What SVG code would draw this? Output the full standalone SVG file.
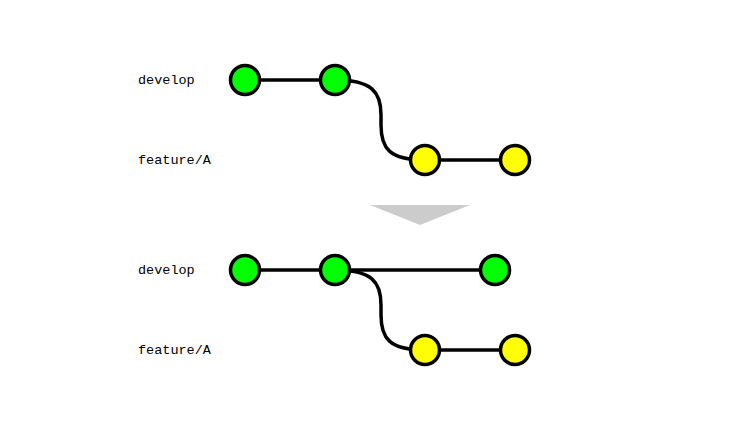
<svg xmlns="http://www.w3.org/2000/svg" width="731" height="431" viewBox="0 0 731 431">
<style>
.lbl{font-family:"Liberation Mono","Courier New",monospace;font-size:13.5px;fill:#000}
.edge{fill:none;stroke:#000;stroke-width:3.5}
.dev{fill:#00ff00;stroke:#000;stroke-width:3.5}
.feat{fill:#ffff00;stroke:#000;stroke-width:3.5}
</style>
<rect width="731" height="431" fill="#fff"/>
<g id="labels">
<text class="lbl" x="138" y="84">develop</text>
<text class="lbl" x="138" y="164">feature/A</text>
<text class="lbl" x="138" y="274">develop</text>
<text class="lbl" x="138" y="354">feature/A</text>
</g>
<g id="connectors">
<path class="edge" d="M245 80 L335 80"/>
<path class="edge" d="M335 80 C372 80 381 92 381 115 L381 125 C381 148 389 160 425 160"/>
<path class="edge" d="M425 160 L515 160"/>
<path class="edge" d="M245 270 L495 270"/>
<path class="edge" d="M335 270 C372 270 381 282 381 305 L381 315 C381 338 389 350 425 350"/>
<path class="edge" d="M425 350 L515 350"/>
</g>
<g id="top-develop-1"><circle class="dev" cx="245" cy="80" r="14.5"/></g>
<g id="top-develop-2"><circle class="dev" cx="335" cy="80" r="14.5"/></g>
<g id="top-feature-1"><circle class="feat" cx="425" cy="160" r="14.5"/></g>
<g id="top-feature-2"><circle class="feat" cx="515" cy="160" r="14.5"/></g>
<g id="arrow"><polygon points="370,205 470,205 420,225" fill="#cccccc"/></g>
<g id="bot-develop-1"><circle class="dev" cx="245" cy="270" r="14.5"/></g>
<g id="bot-develop-2"><circle class="dev" cx="335" cy="270" r="14.5"/></g>
<g id="bot-develop-3"><circle class="dev" cx="495" cy="270" r="14.5"/></g>
<g id="bot-feature-1"><circle class="feat" cx="425" cy="350" r="14.5"/></g>
<g id="bot-feature-2"><circle class="feat" cx="515" cy="350" r="14.5"/></g>
</svg>
